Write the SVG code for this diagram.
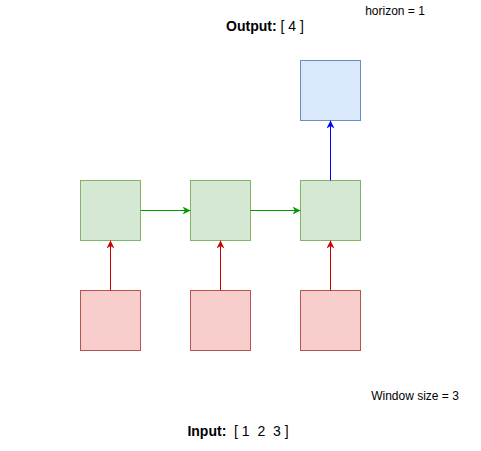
<svg xmlns="http://www.w3.org/2000/svg" width="481" height="451" viewBox="0 0 481 451">
<style>
text{font-family:"Liberation Sans",Arial,sans-serif;fill:#000;white-space:pre}
.g{fill:#d5e8d4;stroke:#82b366}
.r{fill:#f8cecc;stroke:#b85450}
.b{fill:#dae8fc;stroke:#6c8ebf}
.lg{stroke:#009900;fill:none}
.lr{stroke:#CC0000;fill:none}
.lb{stroke:#0000FF;fill:none}
</style>
<defs>
<marker id="ag" viewBox="0 0 10 10" refX="10" refY="5" markerWidth="8" markerHeight="8" markerUnits="userSpaceOnUse" orient="auto"><path d="M0,0 L10,5 L0,10 L3,5 z" fill="#009900"/></marker>
<marker id="ar" viewBox="0 0 10 10" refX="10" refY="5" markerWidth="8" markerHeight="8" markerUnits="userSpaceOnUse" orient="auto"><path d="M0,0 L10,5 L0,10 L3,5 z" fill="#CC0000"/></marker>
<marker id="ab" viewBox="0 0 10 10" refX="10" refY="5" markerWidth="8" markerHeight="8" markerUnits="userSpaceOnUse" orient="auto"><path d="M0,0 L10,5 L0,10 L3,5 z" fill="#0000FF"/></marker>
</defs>
<g id="out"><rect class="b" x="300.5" y="60.5" width="60" height="60"/></g>
<g id="h1"><rect class="g" x="80.5" y="180.5" width="60" height="60"/></g>
<g id="h2"><rect class="g" x="190.5" y="180.5" width="60" height="60"/></g>
<g id="h3"><rect class="g" x="300.5" y="180.5" width="60" height="60"/></g>
<g id="i1"><rect class="r" x="80.5" y="290.5" width="60" height="60"/></g>
<g id="i2"><rect class="r" x="190.5" y="290.5" width="60" height="60"/></g>
<g id="i3"><rect class="r" x="300.5" y="290.5" width="60" height="60"/></g>
<g id="connectors">
<path class="lg" d="M140.5,210.5 L190.5,210.5" marker-end="url(#ag)"/>
<path class="lg" d="M250.5,210.5 L300.5,210.5" marker-end="url(#ag)"/>
<path class="lr" d="M110.5,290.5 L110.5,240.5" marker-end="url(#ar)"/>
<path class="lr" d="M220.5,290.5 L220.5,240.5" marker-end="url(#ar)"/>
<path class="lr" d="M330.5,290.5 L330.5,240.5" marker-end="url(#ar)"/>
<path class="lb" d="M330.5,180.5 L330.5,120.5" marker-end="url(#ab)"/>
</g>
<g id="labels">
<text x="265" y="31" font-size="14" text-anchor="middle"><tspan font-weight="bold">Output:</tspan> [ 4 ]</text>
<text x="395" y="15" font-size="12" text-anchor="middle">horizon = 1</text>
<text x="415" y="400" font-size="12" text-anchor="middle">Window size = 3</text>
<text x="238" y="436" font-size="14" text-anchor="middle"><tspan font-weight="bold">Input:</tspan>  [ 1  2  3 ]</text>
</g>
</svg>
